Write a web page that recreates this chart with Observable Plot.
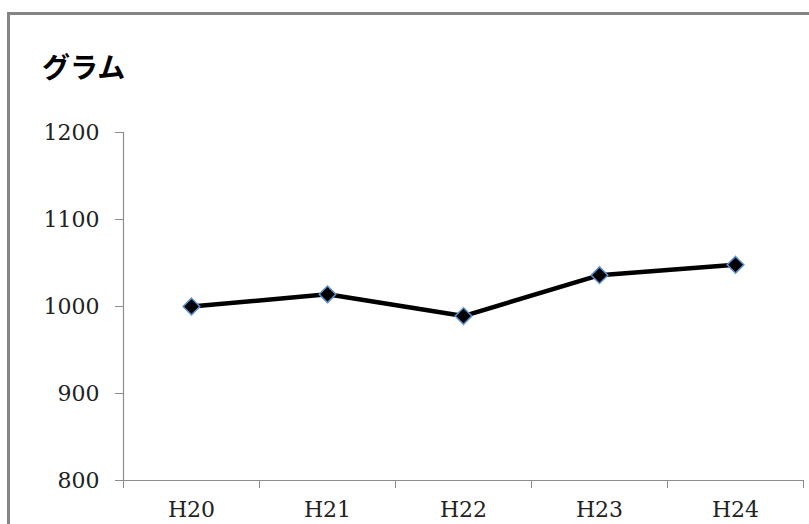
<!DOCTYPE html>
<html>
<head>
<meta charset="utf-8">
<script src="https://cdn.jsdelivr.net/npm/d3@7"></script>
<script src="https://cdn.jsdelivr.net/npm/@observablehq/plot@0.6"></script>
<style>
  html, body { margin: 0; padding: 0; background: #fff; overflow: hidden; }
  #wrap { position: relative; width: 809px; height: 524px; overflow: hidden; }
  #border { position: absolute; left: 7px; top: 12px; width: 900px; height: 700px;
            border: 3px solid #858585; box-sizing: border-box; }
  #title { position: absolute; left: 42px; top: 48px; font-family: "Noto Sans CJK JP", sans-serif;
           font-weight: bold; font-size: 28px; line-height: 36px; color: #000; }
  #chart { position: absolute; left: 0; top: 0; }
</style>
</head>
<body>
<div id="wrap">
  <div id="border"></div>
  <div id="chart"></div>
  <div id="title">グラム</div>
</div>
<script>
const categories = ["H20", "H21", "H22", "H23", "H24"];
const values = [1000, 1014, 989, 1036, 1048];
const yTicks = [800, 900, 1000, 1100, 1200];

const data = categories.map((c, i) => ({i, c, v: values[i]}));
const boundaries = d3.range(-0.5, categories.length, 1);

const chart = Plot.plot({
  width: 809,
  height: 524,
  marginLeft: 123,
  marginRight: 6,
  marginTop: 132,
  marginBottom: 44,
  style: {background: "transparent", fontFamily: "'DejaVu Serif', serif", fontSize: "22px", color: "#222"},
  x: {domain: [-0.5, categories.length - 0.5]},
  y: {domain: [800, 1200]},
  marks: [
    Plot.ruleX([-0.5], {stroke: "#8c8c8c", strokeWidth: 1.2}),
    Plot.ruleY([800], {stroke: "#8c8c8c", strokeWidth: 1.2}),
    Plot.axisY({ticks: yTicks, tickSize: 8, tickPadding: 16, stroke: "#8c8c8c", tickFormat: d => String(d), label: null, fontSize: 22}),
    Plot.axisX({ticks: boundaries, tickSize: 8, tickFormat: () => "", stroke: "#8c8c8c", label: null}),
    Plot.axisX({ticks: d3.range(categories.length), tickSize: 0, tickPadding: 21, tickFormat: i => categories[i], label: null, fontSize: 22}),
    Plot.line(data, {x: "i", y: "v", stroke: "#000", strokeWidth: 4.5}),
    Plot.dot(data, {x: "i", y: "v", symbol: "diamond2", r: 7.5, fill: "#000", stroke: "#5b8fd0", strokeWidth: 1.5})
  ]
});
document.getElementById("chart").appendChild(chart);
</script>
</body>
</html>
